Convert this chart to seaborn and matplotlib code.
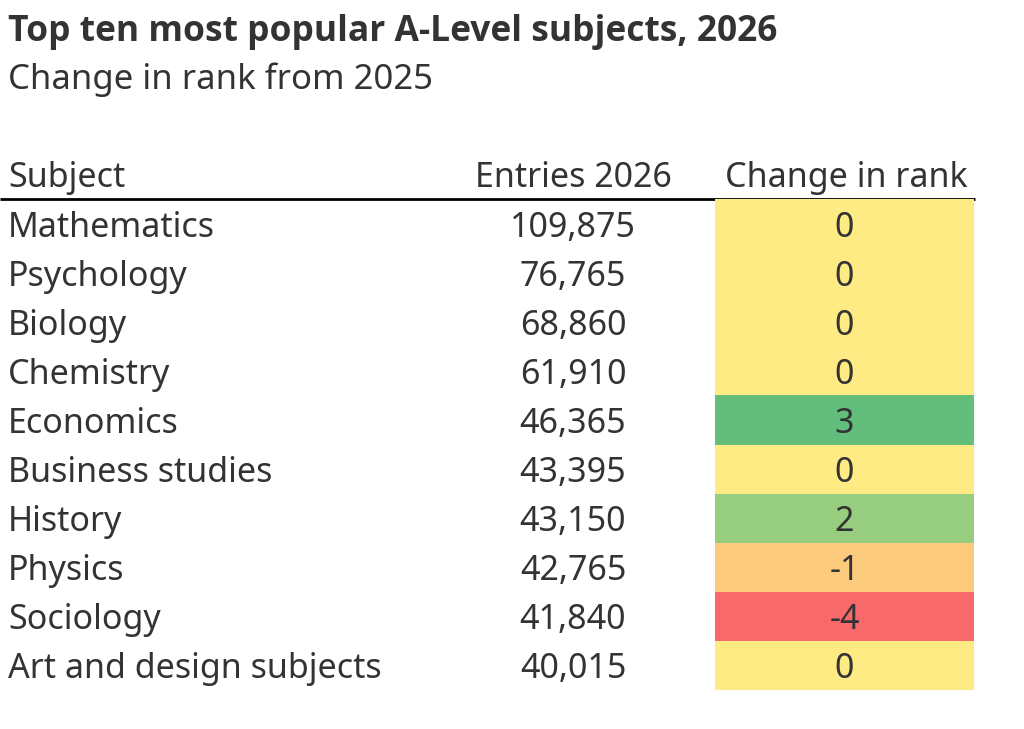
import matplotlib
matplotlib.use("Agg")
import matplotlib.pyplot as plt
import seaborn as sns
import pandas as pd
from matplotlib.colors import LinearSegmentedColormap, TwoSlopeNorm

subjects = ["Mathematics", "Psychology", "Biology", "Chemistry", "Economics",
            "Business studies", "History", "Physics", "Sociology",
            "Art and design subjects"]
entries_2026 = [109875, 76765, 68860, 61910, 46365, 43395, 43150, 42765, 41840, 40015]
rank_change = [0, 0, 0, 0, 3, 0, 2, -1, -4, 0]

title = "Top ten most popular A-Level subjects, 2026"
subtitle = "Change in rank from 2025"
headers = ["Subject", "Entries 2026", "Change in rank"]

sns.set_theme(style="white")
plt.rcParams["font.family"] = ["Noto Sans", "DejaVu Sans"]
TXT = "#333333"
FS = 24.5

df = pd.DataFrame({"change": rank_change}, index=subjects)

W, H = 1024, 729
fig = plt.figure(figsize=(W / 100, H / 100), dpi=100)

def px_axes(x0, y0, x1, y1):
    return fig.add_axes([x0 / W, 1 - y1 / H, (x1 - x0) / W, (y1 - y0) / H])

top, bottom = 199, 690
ax_tab = px_axes(0, top, 975, bottom)
ax_tab.set_xlim(0, 975)
ax_tab.set_ylim(len(subjects), 0)
ax_tab.axis("off")

ax_hm = px_axes(715, top, 974, bottom)
cmap = LinearSegmentedColormap.from_list("rag", ["#F8696B", "#FFEB84", "#63BE7B"])
norm = TwoSlopeNorm(vmin=min(rank_change), vcenter=0, vmax=max(rank_change))
sns.heatmap(df, ax=ax_hm, cmap=cmap, norm=norm, cbar=False, annot=True, fmt="d",
            annot_kws={"fontsize": FS, "color": TXT}, xticklabels=False, yticklabels=False)
ax_hm.set_xlabel("")
ax_hm.set_ylabel("")
for t in ax_hm.texts:
    t.set_va("center_baseline")

for i, (s, e) in enumerate(zip(subjects, entries_2026)):
    ax_tab.text(8, i + 0.5, s, ha="left", va="center_baseline", fontsize=FS, color=TXT)
    ax_tab.text(573, i + 0.5, f"{e:,}", ha="center", va="center_baseline", fontsize=FS, color=TXT)

# header row sits above the table axes
for x, h, ha in zip([8, 573, 846], headers, ["left", "center", "center"]):
    ax_tab.text(x, -0.5, h, ha=ha, va="center_baseline", fontsize=FS, color=TXT)
ax_tab.plot([0, 975], [0, 0], color="black", lw=2, clip_on=False, solid_capstyle="butt")

fig.text(8 / W, 1 - 28 / H, title, fontsize=25.5, fontweight="bold", color=TXT,
         ha="left", va="center_baseline", family=["Open Sans", "DejaVu Sans"])
fig.text(8 / W, 1 - 76 / H, subtitle, fontsize=25, color=TXT, ha="left", va="center_baseline")

fig.savefig("out.png", dpi=100, facecolor="white")
